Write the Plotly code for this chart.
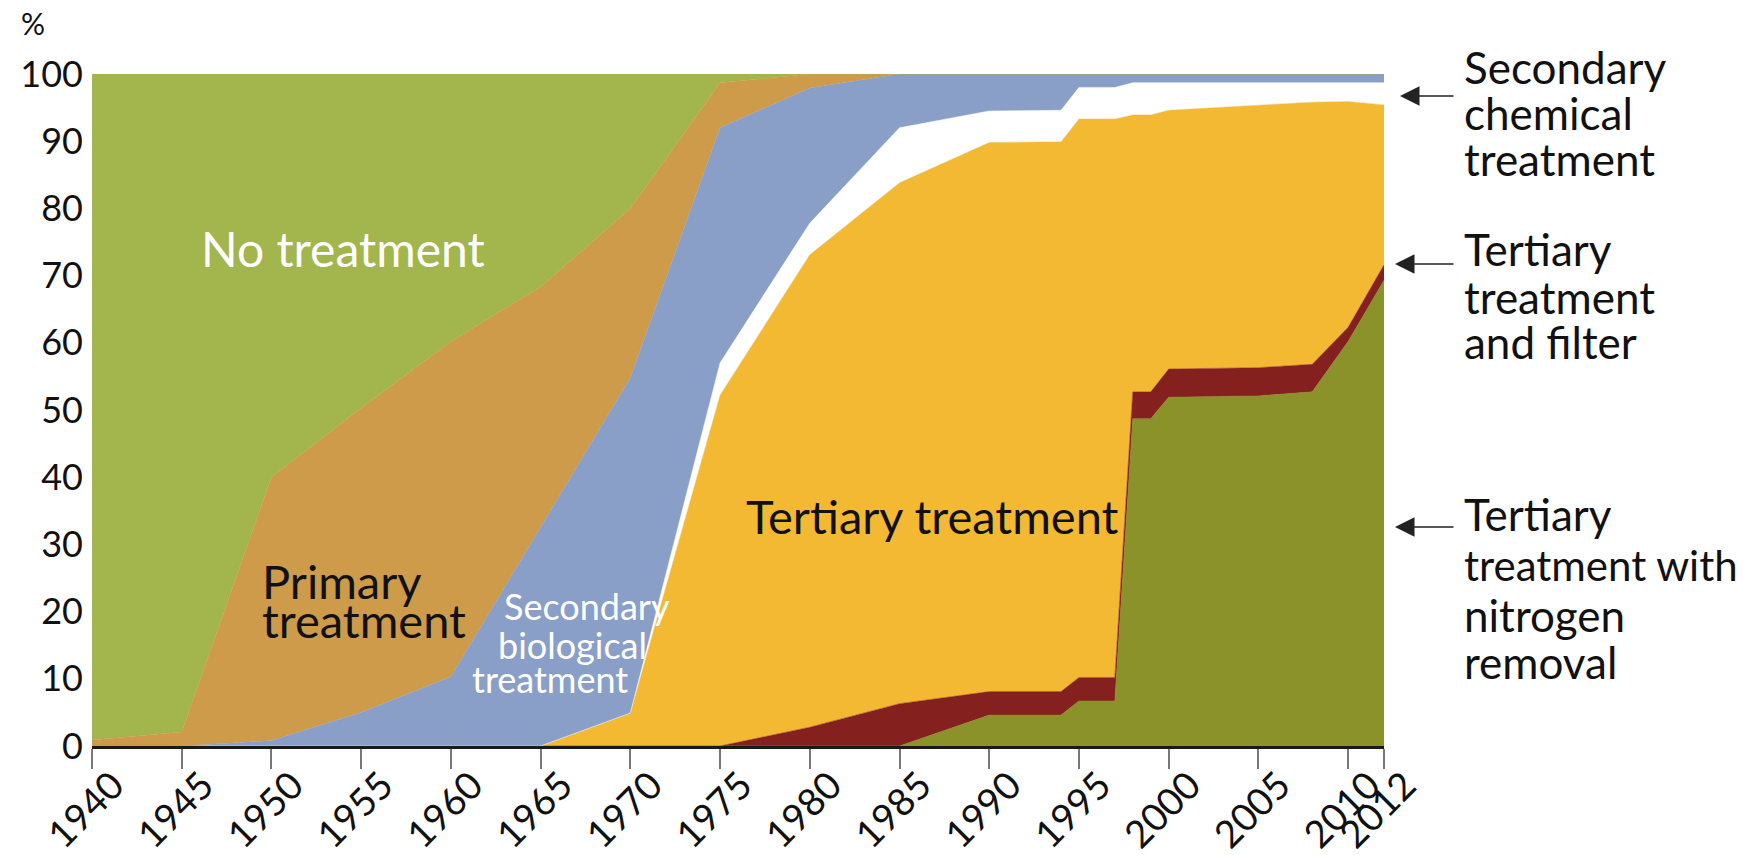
import plotly.graph_objects as go

years = [1940, 1945, 1950, 1955, 1960, 1965, 1970, 1975, 1980, 1985, 1990,
         1994, 1995, 1997, 1998, 1999, 2000, 2005, 2008, 2010, 2012]

nitrogen  = [0, 0, 0, 0, 0, 0, 0, 0, 0, 0, 4.6, 4.6, 6.7, 6.7, 48.7, 48.7, 51.9, 52.1, 52.7, 60.2, 69.3]
filt      = [0, 0, 0, 0, 0, 0, 0, 0, 2.8, 6.3, 3.5, 3.5, 3.5, 3.5, 4.0, 4.0, 4.2, 4.2, 4.1, 2.1, 2.3]
tertiary  = [0, 0, 0, 0, 0, 0, 4.9, 52.2, 70.3, 77.5, 81.7, 81.8, 83.1, 83.1, 41.2, 41.2, 38.5, 39.0, 39.0, 33.6, 23.8]
chemical  = [0, 0, 0, 0, 0, 0, 0, 4.8, 4.7, 8.2, 4.7, 4.7, 4.7, 4.7, 4.8, 4.8, 4.1, 3.4, 2.9, 2.8, 3.3]
biological= [0, 0, 0.8, 5.0, 10.3, 32.6, 49.9, 35.0, 20.1, 8.0, 5.5, 5.4, 2.0, 2.0, 1.3, 1.3, 1.3, 1.3, 1.3, 1.3, 1.3]
primary   = [0.9, 2.1, 39.2, 45.3, 49.9, 35.7, 25.2, 6.7, 2.1, 0, 0, 0, 0, 0, 0, 0, 0, 0, 0, 0, 0]
none      = [99.1, 97.9, 60.0, 49.7, 39.8, 31.7, 20.0, 1.3, 0, 0, 0, 0, 0, 0, 0, 0, 0, 0, 0, 0, 0]

tick_years = [1940, 1945, 1950, 1955, 1960, 1965, 1970, 1975, 1980, 1985,
              1990, 1995, 2000, 2005, 2010, 2012]
y_ticks = list(range(0, 101, 10))

series = [
    ("Tertiary treatment with nitrogen removal", nitrogen, "#8A9229"),
    ("Tertiary treatment and filter", filt, "#84201E"),
    ("Tertiary treatment", tertiary, "#F4B933"),
    ("Secondary chemical treatment", chemical, "#FFFFFF"),
    ("Secondary biological treatment", biological, "#8A9FC8"),
    ("Primary treatment", primary, "#CE9B4B"),
    ("No treatment", none, "#A3B54D"),
]

FONT = "Lato"

fig = go.Figure()
for name, vals, col in series:
    fig.add_trace(go.Scatter(
        x=years, y=vals, name=name, stackgroup="one", mode="lines",
        line=dict(width=0.5, color=col), fillcolor=col, showlegend=False,
        hoverinfo="x+y+name"))

# plot area geometry (pixels) used for label placement outside the plot
L, R, T, B = 92, 1384, 74, 746
W, H = R - L, B - T

def px(xp):
    return (xp - L) / W

def py(yp):
    return (B - yp) / H

ann = []

def label(text, x, y, size, color, xref="x", yref="y", xanchor="center"):
    ann.append(dict(text=text, x=x, y=y, xref=xref, yref=yref, showarrow=False,
                    xanchor=xanchor, yanchor="middle", borderpad=0,
                    font=dict(family=FONT, size=size, color=color)))

# in-plot labels
label("No treatment", 1954.0, 74.0, 48, "white")
label("Primary", 1949.4, 24.6, 47, "#111111", xanchor="left")
label("treatment", 1949.4, 18.7, 47, "#111111", xanchor="left")
label("Tertiary treatment", 1976.4, 34.3, 47, "#111111", xanchor="left")
label("Secondary", 1967.6, 20.9, 36, "white")
label("biological", 1966.75, 15.0, 36, "white")
label("treatment", 1965.55, 9.9, 36, "white")

# right-side labels
right_groups = [
    (["Secondary", "chemical", "treatment"], [83, 129, 175]),
    (["Tertiary", "treatment", "and filter"], [265, 313, 358]),
    (["Tertiary", "treatment with", "nitrogen", "removal"], [530, 581, 631, 678]),
]
for lines, baselines in right_groups:
    for t, b in zip(lines, baselines):
        fs = 42 if t == "treatment with" else 44
        label(t, px(1463), py(b - 16), fs, "#111111", xref="paper", yref="paper", xanchor="left")

# arrows
for tipx, tipy in [(1400, 96), (1395, 264), (1395, 527)]:
    ann.append(dict(text="", x=px(tipx), y=py(tipy), xref="paper", yref="paper",
                    showarrow=True, ax=1455 - tipx, ay=0, arrowhead=2,
                    arrowsize=3, arrowwidth=1.3, arrowcolor="#222222"))

# % unit label
label("%", px(33), py(23), 30, "#111111", xref="paper", yref="paper")

fig.update_layout(
    width=1757, height=855,
    margin=dict(l=L, r=1757 - R, t=T, b=855 - B),
    paper_bgcolor="white", plot_bgcolor="white",
    font=dict(family=FONT, color="#111111"),
    annotations=ann,
    xaxis=dict(range=[1940, 2012], tickmode="array", tickvals=tick_years,
               ticktext=[str(y) for y in tick_years], tickangle=-45,
               ticks="outside", ticklen=20, tickwidth=1.5, tickcolor="#777777",
               showline=True, linecolor="#1a1a1a", linewidth=3,
               showgrid=False, zeroline=False, automargin=False,
               ticklabelstandoff=-21, ticklabelshift=21,
               tickfont=dict(family=FONT, size=38, color="#111111")),
    yaxis=dict(range=[0, 100], tickmode="array", tickvals=y_ticks,
               ticks="", showline=False, showgrid=False, zeroline=False,
               ticklabelstandoff=8, automargin=False,
               tickfont=dict(family=FONT, size=36, color="#111111")),
)

fig.write_html("out.html", config={"displayModeBar": False},
               post_script="document.body.style.margin='0';document.body.style.overflow='hidden';")
